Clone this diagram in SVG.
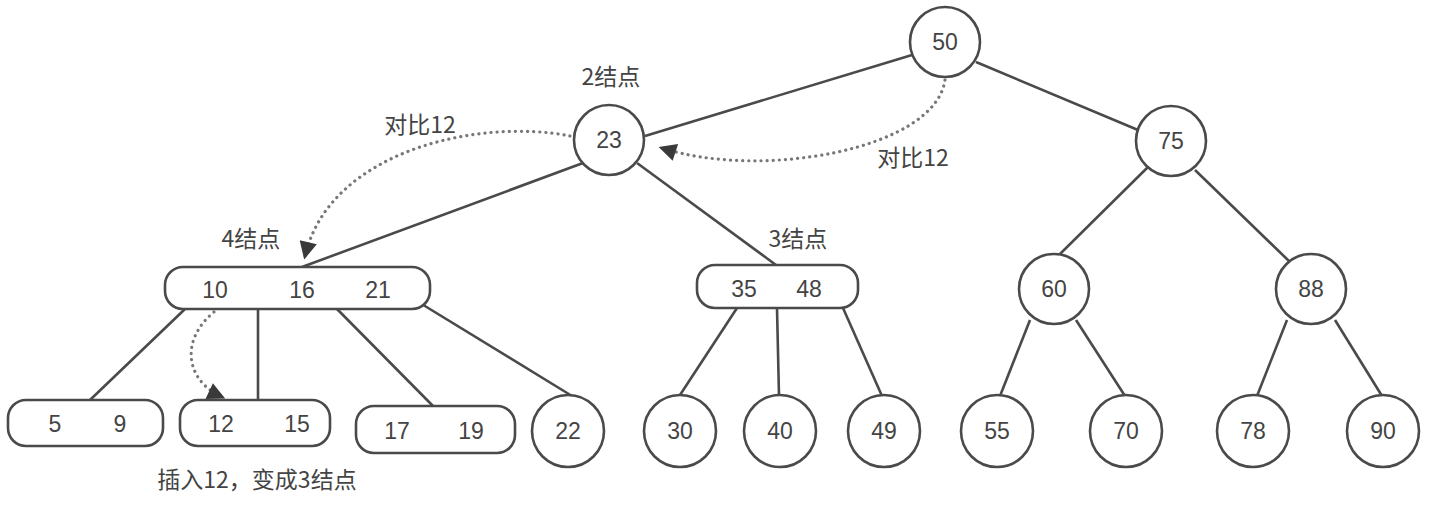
<svg xmlns="http://www.w3.org/2000/svg" width="1431" height="509" viewBox="0 0 1431 509">
<style>
.n{fill:#fff;stroke:#4a4a4a;stroke-width:2.6}
.t{font-family:"Liberation Sans","Noto Sans CJK SC",sans-serif;font-size:23px;fill:#444;text-anchor:middle;dominant-baseline:central}
.l{font-family:"Noto Sans CJK SC","Liberation Sans",sans-serif;font-size:23px;fill:#444;text-anchor:middle;dominant-baseline:central}
.e{stroke:#4a4a4a;stroke-width:2.6;fill:none}
.d{stroke:#777;stroke-width:3.2;fill:none;stroke-dasharray:0.1 6;stroke-linecap:round}
</style>
<defs>
<marker id="ah" viewBox="0 0 10 10" refX="8" refY="5" markerWidth="6.5" markerHeight="5.5" orient="auto" markerUnits="strokeWidth">
<path d="M0,0 L10,5 L0,10 z" fill="#3a3a3a"/>
</marker>
</defs>
<rect width="1431" height="509" fill="#fff"/>
<g id="connectors">
<line class="e" x1="912" y1="55" x2="645" y2="136"/>
<line class="e" x1="976" y1="62" x2="1138" y2="130"/>
<line class="e" x1="583" y1="163" x2="302" y2="267"/>
<line class="e" x1="637" y1="163" x2="776" y2="265"/>
<line class="e" x1="1148" y1="167" x2="1058" y2="256"/>
<line class="e" x1="1195" y1="170" x2="1290" y2="262"/>
<line class="e" x1="185" y1="309" x2="90" y2="400"/>
<line class="e" x1="258" y1="309" x2="258" y2="400"/>
<line class="e" x1="337" y1="309" x2="433" y2="406"/>
<line class="e" x1="420" y1="303" x2="572" y2="396"/>
<line class="e" x1="737" y1="308" x2="680" y2="395"/>
<line class="e" x1="777" y1="308" x2="779" y2="396"/>
<line class="e" x1="843" y1="308" x2="882" y2="396"/>
<line class="e" x1="1030" y1="320" x2="1000" y2="396"/>
<line class="e" x1="1076" y1="320" x2="1125" y2="396"/>
<line class="e" x1="1287" y1="320" x2="1257" y2="396"/>
<line class="e" x1="1335" y1="320" x2="1382" y2="396"/>
<path class="d" d="M945,80 C935,150 760,180 662,148" marker-end="url(#ah)"/>
<path class="d" d="M570,136 C480,118 330,150 305,256" marker-end="url(#ah)"/>
<path class="d" d="M214,312 C180,340 185,380 222,397" marker-end="url(#ah)"/>
</g>
<g id="n50"><circle class="n" cx="945" cy="42" r="35"/><text class="t" x="945" y="42">50</text></g>
<g id="n23"><circle class="n" cx="609" cy="140" r="35"/><text class="t" x="609" y="140">23</text></g>
<g id="n75"><circle class="n" cx="1171" cy="141" r="35"/><text class="t" x="1171" y="141">75</text></g>
<g id="n10_16_21"><rect class="n" x="165" y="267" width="265" height="42" rx="18"/><text class="t" x="215" y="290">10</text><text class="t" x="302" y="290">16</text><text class="t" x="378" y="290">21</text></g>
<g id="n35_48"><rect class="n" x="697" y="265" width="161" height="43" rx="18"/><text class="t" x="744" y="289">35</text><text class="t" x="809" y="289">48</text></g>
<g id="n60"><circle class="n" cx="1054" cy="289" r="35"/><text class="t" x="1054" y="289">60</text></g>
<g id="n88"><circle class="n" cx="1311" cy="289" r="35"/><text class="t" x="1311" y="289">88</text></g>
<g id="n5_9"><rect class="n" x="8" y="400" width="155" height="46" rx="18"/><text class="t" x="55" y="424">5</text><text class="t" x="120" y="424">9</text></g>
<g id="n12_15"><rect class="n" x="180" y="400" width="150" height="46" rx="18"/><text class="t" x="221" y="424">12</text><text class="t" x="297" y="424">15</text></g>
<g id="n17_19"><rect class="n" x="356" y="406" width="159" height="47" rx="18"/><text class="t" x="397" y="431">17</text><text class="t" x="471" y="431">19</text></g>
<g id="n22"><circle class="n" cx="568" cy="431" r="36"/><text class="t" x="568" y="431">22</text></g>
<g id="n30"><circle class="n" cx="680" cy="431" r="36"/><text class="t" x="680" y="431">30</text></g>
<g id="n40"><circle class="n" cx="780" cy="431" r="36"/><text class="t" x="780" y="431">40</text></g>
<g id="n49"><circle class="n" cx="884" cy="431" r="36"/><text class="t" x="884" y="431">49</text></g>
<g id="n55"><circle class="n" cx="997" cy="431" r="36"/><text class="t" x="997" y="431">55</text></g>
<g id="n70"><circle class="n" cx="1126" cy="431" r="36"/><text class="t" x="1126" y="431">70</text></g>
<g id="n78"><circle class="n" cx="1253" cy="431" r="36"/><text class="t" x="1253" y="431">78</text></g>
<g id="n90"><circle class="n" cx="1383" cy="431" r="36"/><text class="t" x="1383" y="431">90</text></g>
<g id="labels">
<text class="l" x="611" y="75">2结点</text>
<text class="l" x="420" y="123">对比12</text>
<text class="l" x="913" y="156">对比12</text>
<text class="l" x="251" y="237">4结点</text>
<text class="l" x="798" y="237">3结点</text>
<text class="l" x="257" y="478">插入12，变成3结点</text>
</g>
</svg>
